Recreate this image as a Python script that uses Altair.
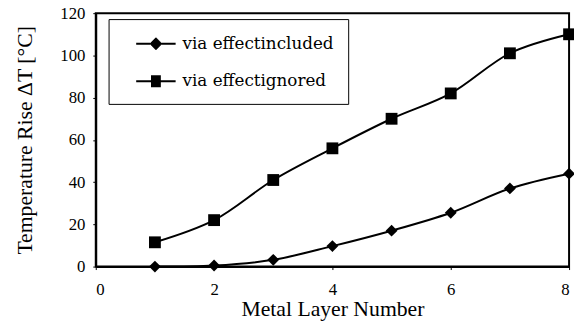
import altair as alt
import pandas as pd

layers = [1, 2, 3, 4, 5, 6, 7, 8]
included = [0, 0.5, 3.2, 9.7, 17, 25.5, 37, 44]
ignored = [11.5, 22, 41, 56, 70, 82, 101, 110]
series_names = ["via effectincluded", "via effectignored"]
x_ticks = [0, 2, 4, 6, 8]
y_ticks = [0, 20, 40, 60, 80, 100, 120]

rows = []
for s, vals in zip(series_names, [included, ignored]):
    for xv, v in zip(layers, vals):
        rows.append({"layer": xv, "dT": v, "series": s})
df = pd.DataFrame(rows)

FONT = "Liberation Serif, Times New Roman, serif"
LEG_FONT = "DejaVu Serif, serif"


def legend_symbol(kind):
    # line segment plus a marker drawn from closely spaced strokes (symbol units)
    parts = ["M-2,0H2"]
    for k in range(-5, 6):
        yy = k * 0.1
        if kind == "square":
            half = 0.5
        else:
            half = 0.6 - abs(yy) * 1.0
        if half > 0:
            parts.append(f"M{-half:.2f},{yy:.2f}H{half:.2f}")
    return "".join(parts)


x = alt.X("layer:Q", scale=alt.Scale(domain=[0, 8], nice=False),
          axis=alt.Axis(values=x_ticks, title="Metal Layer Number", titlePadding=2, labelPadding=12))
y = alt.Y("dT:Q", scale=alt.Scale(domain=[0, 120], nice=False),
          axis=alt.Axis(values=y_ticks, title="Temperature Rise ΔT [°C]", titlePadding=24))

base = alt.Chart(df)
lines = base.mark_line(color="black", strokeWidth=2, interpolate="catmull-rom").encode(
    x=x, y=y, detail="series:N")
points = base.mark_point(filled=True, color="black", size=144, opacity=1).encode(
    x=x, y=y,
    shape=alt.Shape("series:N", scale=alt.Scale(domain=series_names, range=["diamond", "square"]),
                    legend=None))
legend_layer = base.transform_filter("false").mark_point(
    filled=False, color="black", opacity=1, strokeWidth=2).encode(
    x=x, y=y,
    shape=alt.Shape("series:N",
                    scale=alt.Scale(domain=series_names,
                                    range=[legend_symbol("diamond"), legend_symbol("square")]),
                    legend=alt.Legend(orient="none", legendX=13, legendY=6, title=None,
                                      strokeColor="black", padding=14,
                                      symbolSize=400, symbolStrokeWidth=2,
                                      symbolStrokeColor="black",
                                      symbolOffset=23, labelOffset=16,
                                      labelFont=LEG_FONT, labelFontSize=17, labelColor="black",
                                      rowPadding=18, labelLimit=400)))

chart = alt.layer(lines, points, legend_layer).resolve_scale(shape="independent").properties(
    width=480, height=257,
    autosize=alt.AutoSizeParams(type="none"),
    padding={"left": 89, "top": 3, "right": 5, "bottom": 58},
    background="white",
).configure_view(stroke="black", strokeWidth=2).configure_axis(
    grid=False, domainColor="black", domainWidth=2, tickColor="black", tickSize=3,
    labelPadding=8, labelFont=FONT, labelFontSize=17, labelFontWeight="normal", labelColor="black",
    titleFont=FONT, titleFontSize=22, titleFontWeight="normal", titleColor="black",
)

chart.save("out.html", embed_options={"renderer": "svg", "actions": False})
